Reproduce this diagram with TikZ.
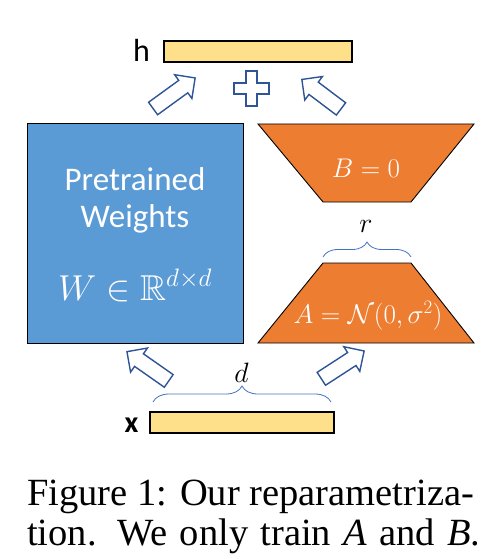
\RequirePackage{fix-cm}
\documentclass[tikz,border=0pt]{standalone}
\usepackage[no-math]{fontspec}
\usepackage{amsmath,amssymb}
\setmainfont{Liberation Serif}
\newfontfamily\calibri{Carlito}
\usetikzlibrary{shapes.arrows,decorations.pathreplacing}
\DeclareFontFamily{U}{msb}{}
\DeclareFontShape{U}{msb}{m}{n}{<->msbm10}{}

\definecolor{weightblue}{HTML}{5B9BD5}
\definecolor{loraorange}{HTML}{ED7D31}
\definecolor{barfill}{HTML}{FFE08A}
\definecolor{arrowblue}{HTML}{2F5597}
\definecolor{bracecol}{HTML}{4472C4}

\begin{document}
\begin{tikzpicture}[x=1pt, y=-1pt,
    vecbar/.style={draw=black, line width=1.2pt, fill=barfill, minimum height=21pt, inner sep=0pt},
    blockarrow/.style={single arrow, draw=arrowblue, fill=white, line width=1.4pt, minimum width=28pt,
      single arrow head extend=7pt, inner xsep=0pt, inner ysep=7pt},
    lora/.style={draw=black, line width=0.9pt, fill=loraorange},
    dimbrace/.style={draw=bracecol, line width=0.8pt, decorate, decoration={brace, amplitude=#1}},
    inbox/.style={text=white, anchor=base}]
      \useasboundingbox (0,0) rectangle (499,559);

      % Output vector h
      \node (hlabel) [anchor=base, font=\calibri\fontsize{32}{32}\selectfont] at (141.5,62) {h};
      \node (hbar) [vecbar, minimum width=188pt] at (258,51.5) {};

      % Sum of the two branches
      \node (upleft) [blockarrow, minimum height=52pt, rotate=36] at (171,95.5) {};
      \node (upright) [blockarrow, minimum height=49pt, rotate=143] at (324.5,96.5) {};
      \draw[arrowblue, line width=1.4pt, fill=white, shift={(251.5,88.5)}]
        (-5.5,-17.5) -- (5.5,-17.5) -- (5.5,-5.5) -- (17.5,-5.5) -- (17.5,5.5) -- (5.5,5.5)
        -- (5.5,17.5) -- (-5.5,17.5) -- (-5.5,5.5) -- (-17.5,5.5) -- (-17.5,-5.5) -- (-5.5,-5.5) -- cycle;

      % Pretrained weights
      \node (weights) [draw=black, line width=1pt, fill=weightblue, minimum width=216pt, minimum height=219pt] at (135,233.5) {};
      \node (wtext1) [inbox, font=\calibri\fontsize{33}{33}\selectfont] at (135,190) {Pretrained};
      \node (wtext2) [inbox, font=\calibri\fontsize{33}{33}\selectfont] at (135,227) {Weights};
      \node (wmath) [inbox, font=\fontsize{36}{36}\selectfont] at (135,300) {$W \in \mathbb{R}^{d\times d}$};

      % Low-rank matrices B and A
      \draw[lora] (258,124) -- (474,124) -- (411,202) -- (323,202) -- cycle;
      \node (bzero) [inbox, font=\fontsize{27}{27}\selectfont] at (366,177) {$B = 0$};
      \draw[lora] (323,263) -- (411,263) -- (474,343) -- (258,343) -- cycle;
      \node (anorm) [inbox, font=\fontsize{27}{27}\selectfont] at (368,323) {$A = \mathcal{N}(0,\sigma^2)$};

      % rank r
      \coordinate (rleft) at (323,257);
      \coordinate (rright) at (411,257);
      \draw[dimbrace=15pt] (rleft) -- (rright);
      \node (rlabel) [anchor=base, font=\fontsize{28}{28}\selectfont] at (366,232) {$r$};

      % Input vector x
      \node (upweights) [blockarrow, minimum height=51pt, rotate=145] at (151,368.5) {};
      \node (upa) [blockarrow, minimum height=51pt, rotate=33] at (339.5,367) {};
      \coordinate (dleft) at (153,402);
      \coordinate (dright) at (331,402);
      \draw[dimbrace=16pt] (dleft) -- (dright);
      \node (dlabel) [anchor=base, font=\fontsize{28}{28}\selectfont] at (241.5,382) {$d$};
      \node (xlabel) [anchor=base, font=\calibri\bfseries\fontsize{30}{30}\selectfont] at (131.5,432) {x};
      \node (xbar) [vecbar, minimum width=184pt] at (242,422.5) {};

      % Caption
      \node (capone) [anchor=base west, inner sep=0pt, font=\fontsize{38.5}{42}\selectfont] at (27,505)
        {Figure 1: Our reparametriza-};
      \node (captwo) [anchor=base west, inner sep=0pt, font=\fontsize{38.5}{42}\selectfont] at (27,545)
        {\makebox[453pt][s]{tion. We only train \textit{A} and \textit{B}.}};

    \end{tikzpicture}
\end{document}
